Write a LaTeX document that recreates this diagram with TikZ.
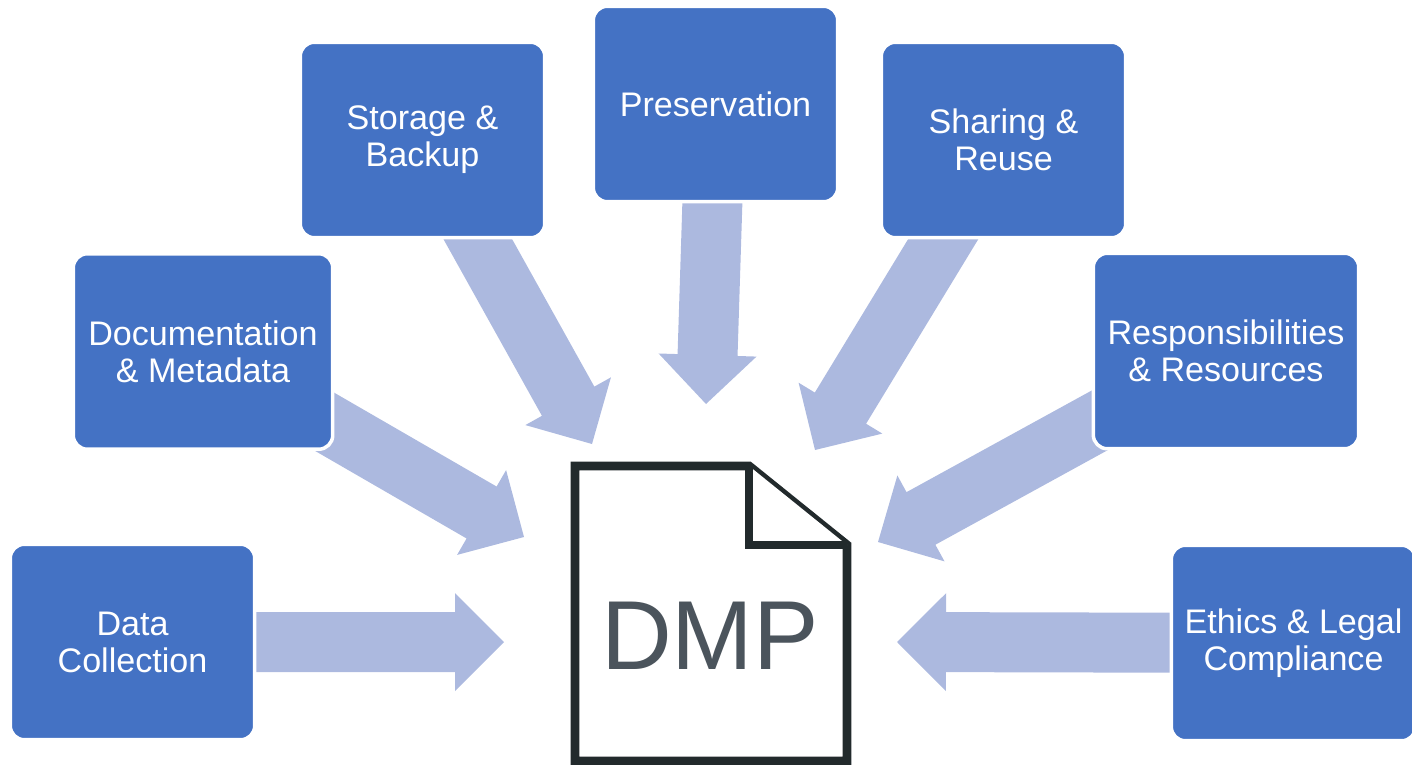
\documentclass[tikz,border=0pt]{standalone}
\usepackage{fontspec}
\setmainfont{Liberation Sans}
\usepackage{tikz}
\usetikzlibrary{calc,backgrounds}
\definecolor{boxblue}{HTML}{4472C4}
\definecolor{flowblue}{HTML}{ACB9DF}
\definecolor{pagedark}{HTML}{222A2C}
\definecolor{dmpgrey}{HTML}{4B545C}
\newcommand{\shafthalf}{0.6cm}
\newcommand{\headhalf}{0.98cm}
\newcommand{\headlen}{0.98cm}
% block arrow from a box (behind it) to a tip coordinate
\newcommand{\flowarrow}[2]{%
  \fill[flow] ($(#1)!\shafthalf!90:(#2)$)
    -- ($(#2)!\headlen!(#1)!\shafthalf!90:(#2)$)
    -- ($(#2)!\headlen!(#1)!\headhalf!90:(#2)$)
    -- (#2)
    -- ($(#2)!\headlen!(#1)!\headhalf!-90:(#2)$)
    -- ($(#2)!\headlen!(#1)!\shafthalf!-90:(#2)$)
    -- ($(#1)!\shafthalf!-90:(#2)$) -- cycle;}
\tikzstyle{topic}=[fill=boxblue, draw=white, line width=2pt, rounded corners=0.28cm,
                   inner sep=0, minimum width=4.89cm, minimum height=3.91cm,
                   text=white, align=center, font=\fontsize{19.4}{21}\selectfont]
\tikzstyle{flow}=[fill=flowblue]
\tikzstyle{page}=[draw=pagedark, fill=white, line width=5.1pt, miter limit=10]
\tikzstyle{dmpmap}=[x=0.02cm, y=-0.02cm]

\begin{document}
\begin{tikzpicture}[dmpmap]
        \useasboundingbox (0, 0) rectangle (1412, 764);
        % the topics
        \node[topic] (coll) at (132.5, 642) {Data\\Collection};
        \node[topic, minimum width=5.19cm] (docu) at (203, 351.5) {Documentation\\\& Metadata};
        \node[topic] (stor) at (422.5, 140) {Storage \&\\Backup};
        \node[topic] (pres) at (715.5, 104) {Preservation};
        \node[topic] (shar) at (1003.5, 140) {Sharing \&\\Reuse};
        \node[topic, minimum width=5.31cm] (resp) at (1226, 351) {Responsibilities\\\& Resources};
        \node[topic] (ethi) at (1293.5, 643) {Ethics \& Legal\\Compliance};
        % arrow tips
        \coordinate (collTip) at (504, 642);
        \coordinate (docuTip) at (524, 537);
        \coordinate (storTip) at (592, 444);
        \coordinate (presTip) at (706, 404);
        \coordinate (sharTip) at (815, 450);
        \coordinate (respTip) at (878, 542);
        \coordinate (ethiTip) at (897, 642);
        \begin{scope}[on background layer]
            \flowarrow{coll}{collTip}
            \flowarrow{docu}{docuTip}
            \flowarrow{stor}{storTip}
            \flowarrow{pres}{presTip}
            \flowarrow{shar}{sharTip}
            \flowarrow{resp}{respTip}
            \flowarrow{ethi}{ethiTip}
        \end{scope}
        % the plan sheet
        \draw[page] (575, 466) -- (749, 466) -- (847, 545) -- (847, 761) -- (575, 761) -- cycle;
        \draw[page] (749, 466) -- (749, 545) -- (847, 545);
        \node[text=dmpgrey, font=\fontsize{55.8}{60}\selectfont] (dmp) at (710, 636) {DMP};
    \end{tikzpicture}
\end{document}
